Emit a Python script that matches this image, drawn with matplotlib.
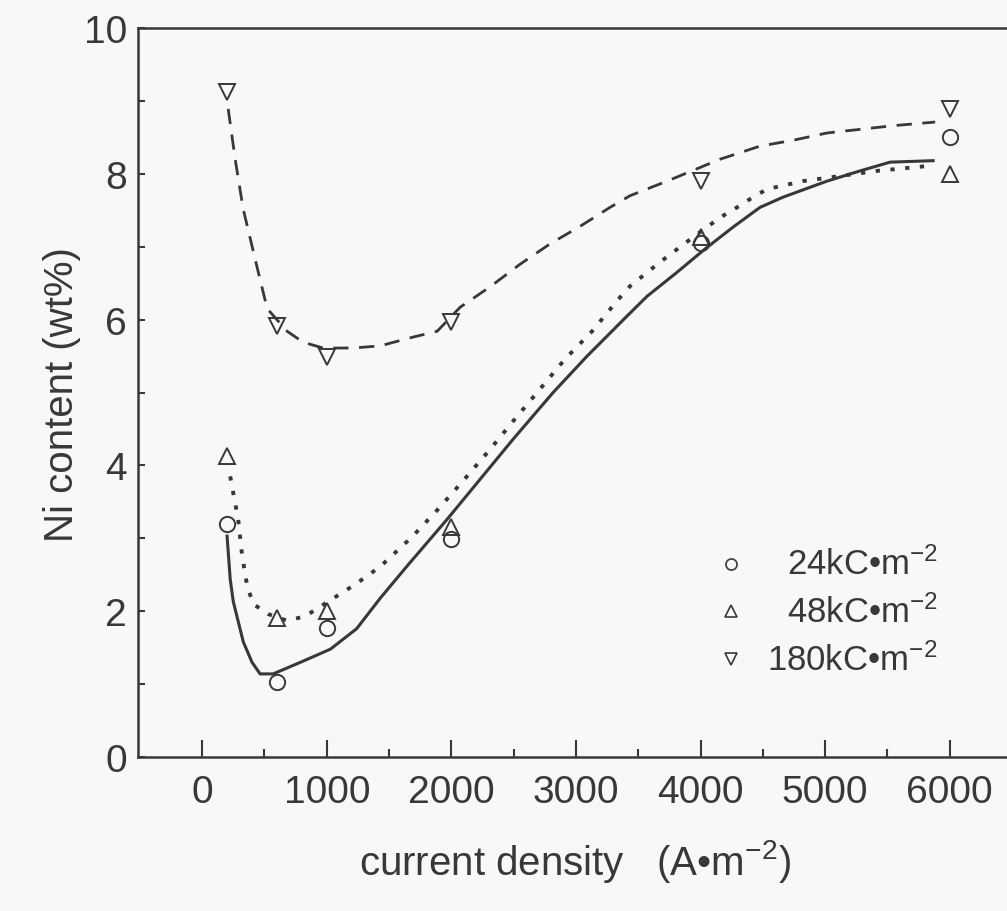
import matplotlib
matplotlib.use("Agg")
import matplotlib.pyplot as plt
from matplotlib.ticker import MultipleLocator, FixedLocator

OUT_PATH = "out.png"

# measured points (current density in A/m^2, Ni content in wt%)
current = [200, 600, 1000, 2000, 4000, 6000]
ni_24 = [3.20, 1.03, 1.77, 2.99, 7.05, 8.50]
ni_48 = [4.13, 1.91, 2.00, 3.15, 7.13, 8.00]
ni_180 = [9.12, 5.91, 5.49, 5.97, 7.90, 8.89]

# fitted curves
fit24_x = [200, 225, 250, 330, 400, 465, 570, 790, 1030, 1240, 1430, 1645,
           1966, 2231, 2496, 2817, 3090, 3411, 3571, 3812, 4037, 4262, 4478,
           4663, 5016, 5281, 5522, 5867]
fit24_y = [3.03, 2.44, 2.13, 1.58, 1.30, 1.14, 1.14, 1.30, 1.48, 1.76, 2.18,
           2.62, 3.26, 3.81, 4.36, 5.00, 5.50, 6.05, 6.32, 6.65, 6.97, 7.27,
           7.54, 7.68, 7.90, 8.04, 8.16, 8.18]

fit48_x = [225, 289, 321, 361, 409, 530, 682, 826, 1083, 1212, 1348, 1453,
           1685, 1894, 2095, 2311, 2512, 2713, 2913, 3130, 3331, 3435, 3676,
           3917, 4157, 4294, 4422, 4534, 4823, 5120, 5417, 5843]
fit48_y = [3.85, 3.26, 2.76, 2.35, 2.10, 1.96, 1.87, 1.93, 2.21, 2.35, 2.51,
           2.65, 3.02, 3.40, 3.79, 4.22, 4.64, 5.05, 5.46, 5.84, 6.26, 6.46,
           6.79, 7.10, 7.40, 7.54, 7.68, 7.79, 7.90, 7.97, 8.04, 8.11]

fit180_x = [209, 265, 329, 425, 522, 682, 810, 971, 1212, 1429, 1693, 1886,
            2071, 2311, 2552, 2793, 3034, 3274, 3435, 3732, 4157, 4478, 4743,
            5016, 5281, 5546, 5883]
fit180_y = [8.89, 8.20, 7.52, 6.83, 6.15, 5.84, 5.69, 5.61, 5.61, 5.64, 5.76,
            5.84, 6.17, 6.45, 6.76, 7.04, 7.28, 7.54, 7.70, 7.90, 8.20, 8.38,
            8.46, 8.56, 8.61, 8.66, 8.71]

labels = ["24kC•m$^{-2}$", "48kC•m$^{-2}$", "180kC•m$^{-2}$"]
markers = ["o", "^", "v"]

INK = "#383838"
BG = "#f8f8f7"


def main():
    plt.rcParams["font.family"] = ["Liberation Sans Narrow", "Liberation Sans", "DejaVu Sans"]
    plt.rcParams["mathtext.fontset"] = "custom"
    plt.rcParams["mathtext.rm"] = "Liberation Sans"
    plt.rcParams["mathtext.it"] = "Liberation Sans"
    plt.rcParams["mathtext.default"] = "regular"

    fig = plt.figure(figsize=(10.07, 9.12), dpi=100, facecolor=BG)
    ax = fig.add_axes([138 / 1007, 1 - 758 / 912, 874 / 1007, 729 / 912])
    ax.set_facecolor(BG)

    ax.plot(fit24_x, fit24_y, color=INK, lw=2.2, ls="-")
    ax.plot(fit48_x, fit48_y, color=INK, lw=2.8, ls=(0, (1.1, 2.7)))
    ax.plot(fit180_x, fit180_y, color=INK, lw=2.0, ls=(0, (5.5, 3.8)))

    for ys, m in zip([ni_24, ni_48, ni_180], markers):
        ax.plot(current, ys, ls="none", marker=m, ms=11, mfc="none",
                mec=INK, mew=1.4)

    ax.set_xlim(-515, 6500)
    ax.set_ylim(0, 10)

    ax.xaxis.set_major_locator(FixedLocator([0, 1000, 2000, 3000, 4000, 5000, 6000]))
    ax.xaxis.set_minor_locator(FixedLocator([500, 1500, 2500, 3500, 4500, 5500]))
    ax.yaxis.set_major_locator(MultipleLocator(2))
    ax.yaxis.set_minor_locator(MultipleLocator(1))

    ax.tick_params(axis="x", which="major", direction="in", length=12, width=1.5,
                   pad=12, labelsize=28, colors=INK)
    ax.tick_params(axis="x", which="minor", direction="in", length=6, width=1.5)
    ax.tick_params(axis="y", which="both", direction="in", length=5, width=1.5,
                   pad=8, labelsize=28, colors=INK)
    ax.tick_params(which="both", color=INK)

    for side in ["left", "bottom", "top"]:
        ax.spines[side].set_linewidth(1.8)
        ax.spines[side].set_color(INK)
    ax.spines["right"].set_visible(False)

    # legend drawn by hand: markers on the left, labels right-aligned
    leg_y = [0.265, 0.200, 0.134]
    for m, lab, yy in zip(markers, labels, leg_y):
        ax.plot([0.678], [yy], transform=ax.transAxes, ls="none", marker=m,
                ms=8, mfc="none", mec=INK, mew=1.2, clip_on=False)
        ax.text(0.915, yy, lab, transform=ax.transAxes, ha="right", va="center",
                fontsize=25, color=INK)

    fig.text(575 / 1007, 1 - 862 / 912, "current density   (A•m$^{-2}$)",
             ha="center", va="center", fontsize=29, color=INK)
    fig.text(62 / 1007, 1 - 395 / 912, "Ni content (wt%)", rotation=90,
             ha="center", va="center", fontsize=29, color=INK)

    fig.savefig(OUT_PATH, dpi=100, facecolor=BG)
    plt.close(fig)


if __name__ == "__main__":
    main()
